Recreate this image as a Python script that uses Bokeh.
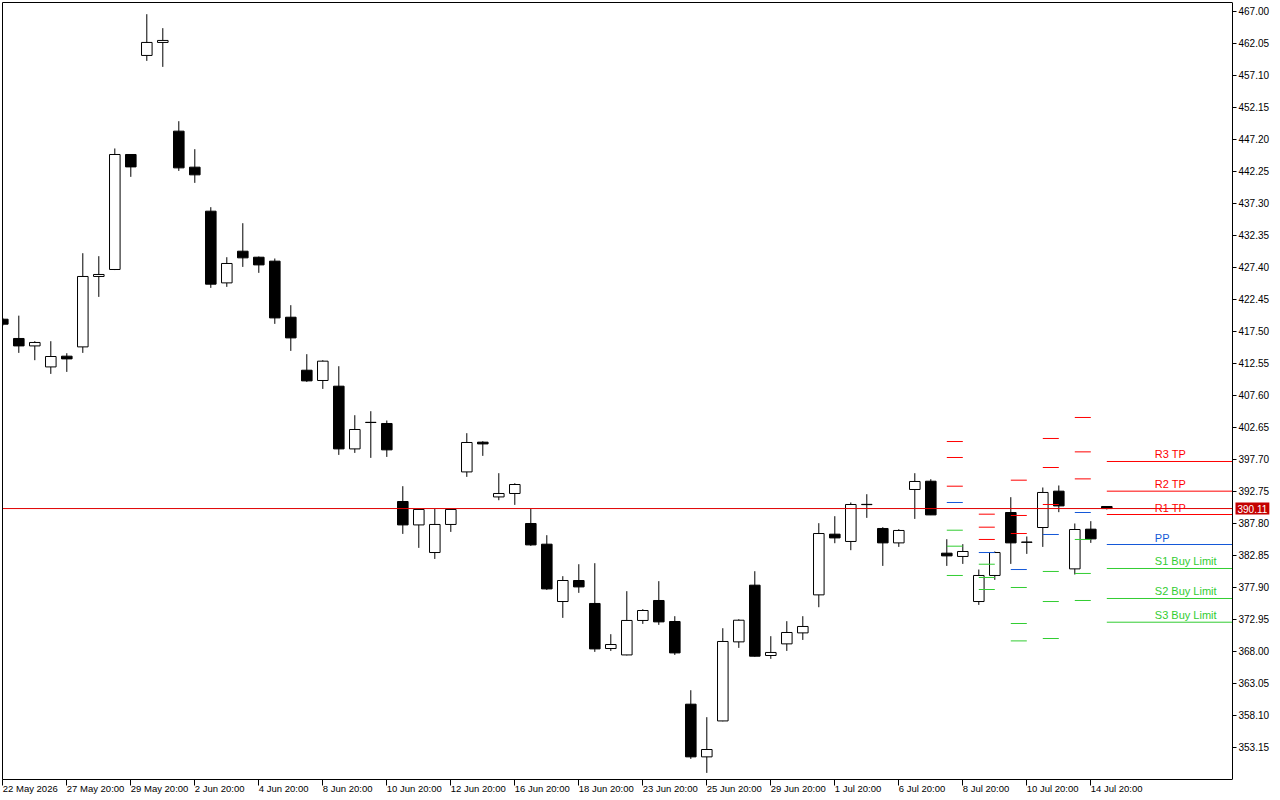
from bokeh.plotting import figure
from bokeh.models import Range1d, FixedTicker, PrintfTickFormatter, LinearAxis, ColumnDataSource
from bokeh.core.properties import value
from bokeh.embed import file_html
from bokeh.resources import INLINE

# ---------------- data ----------------
opens = [419.40, 416.42, 415.27, 412.02, 413.68, 415.12, 426.01, 427.09, 444.88, 460.20,
         462.21, 448.49, 442.92, 436.11, 425.02, 429.92, 428.99, 428.38, 419.71, 411.51,
         409.92, 409.04, 399.34, 403.45, 403.27, 391.20, 387.58, 383.31, 387.65, 395.78,
         400.38, 391.91, 392.44, 387.80, 384.60, 375.73, 378.98, 375.43, 368.46, 367.47,
         372.80, 375.89, 372.64, 359.85, 351.70, 357.26, 369.49, 378.26, 367.38, 369.18,
         370.88, 376.76, 386.15, 385.02, 390.76, 387.03, 384.80, 393.06, 394.34, 383.21,
         382.70, 375.73, 379.76, 389.50, 384.93, 387.18, 392.80, 380.78, 386.92, 390.43]
highs = [419.60, 419.95, 416.00, 416.00, 414.14, 429.61, 429.15, 445.81, 444.90, 466.58,
         464.42, 450.03, 445.70, 436.73, 428.99, 434.25, 429.10, 428.79, 421.57, 413.99,
         413.06, 412.13, 404.55, 405.17, 403.73, 393.57, 390.00, 390.06, 390.00, 401.77,
         400.53, 395.58, 394.03, 390.06, 385.99, 379.65, 381.50, 381.66, 370.68, 377.33,
         374.54, 378.88, 373.46, 362.01, 357.84, 371.60, 372.99, 380.42, 370.37, 372.69,
         373.46, 387.85, 388.93, 391.05, 392.33, 387.23, 386.92, 395.58, 394.65, 385.37,
         384.60, 380.68, 383.47, 391.87, 385.79, 393.37, 393.68, 387.80, 388.16, 390.43]
lows = [418.40, 414.19, 413.06, 410.94, 411.25, 414.19, 422.85, 427.00, 441.42, 459.36,
        458.43, 442.34, 440.49, 424.25, 424.40, 427.49, 426.57, 418.68, 414.50, 409.70,
        408.62, 398.41, 398.72, 397.95, 398.10, 386.19, 384.03, 382.32, 386.50, 395.01,
        398.26, 391.40, 390.68, 384.34, 377.53, 373.20, 377.07, 367.94, 368.09, 367.40,
        372.27, 372.12, 367.47, 351.39, 349.22, 357.20, 368.56, 367.20, 366.86, 368.09,
        369.79, 374.85, 384.75, 383.67, 388.67, 381.24, 384.18, 388.51, 389.10, 381.24,
        381.55, 375.21, 379.08, 381.55, 383.10, 384.18, 389.55, 379.91, 384.80, 389.97]
closes = [418.63, 415.27, 415.80, 413.63, 413.26, 426.01, 426.32, 444.88, 442.96, 462.21,
          462.52, 442.81, 441.73, 424.82, 428.02, 428.89, 427.80, 419.60, 416.51, 409.86,
          412.91, 399.34, 402.34, 403.42, 399.19, 387.58, 389.97, 387.65, 389.97, 400.33,
          400.11, 392.44, 393.83, 384.49, 377.68, 378.98, 377.99, 368.40, 369.08, 372.80,
          374.34, 372.58, 367.78, 351.70, 352.84, 369.55, 372.84, 367.27, 367.85, 370.94,
          371.87, 386.25, 385.57, 390.74, 390.72, 384.80, 386.72, 394.30, 389.13, 382.79,
          383.47, 379.76, 383.31, 384.80, 384.89, 392.60, 390.52, 386.87, 385.42, 390.11]

date_labels = ["22 May 2026", "27 May 20:00", "29 May 20:00", "2 Jun 20:00", "4 Jun 20:00",
               "8 Jun 20:00", "10 Jun 20:00", "12 Jun 20:00", "16 Jun 20:00", "18 Jun 20:00",
               "23 Jun 20:00", "25 Jun 20:00", "29 Jun 20:00", "1 Jul 20:00", "6 Jul 20:00",
               "8 Jul 20:00", "10 Jul 20:00", "14 Jul 20:00"]
bars_per_label = 4

price_ticks = [467.00, 462.05, 457.10, 452.15, 447.20, 442.25, 437.30, 432.35, 427.40, 422.45,
               417.50, 412.55, 407.60, 402.65, 397.70, 392.75, 387.80, 382.85, 377.90, 372.95,
               368.00, 363.05, 358.10, 353.15]

current_price = 390.11

# daily pivot levels (first bar of each day)
pivot_day_start = [59, 61, 63, 65, 67, 69]
r3 = [400.48, 389.24, 394.50, 400.95, 404.20, 397.39]
r2 = [398.01, 387.23, 389.04, 396.46, 398.88, 392.80]
r1 = [393.57, 385.33, 386.25, 390.74, 394.70, 389.19]
pp = [391.05, 383.31, 380.68, 386.10, 389.50, 384.55]
s1 = [386.76, 381.50, 377.90, 380.38, 385.33, 380.84]
s2 = [384.29, 379.45, 372.33, 375.73, 380.07, 376.20]
s3 = [379.76, 377.59, 369.64, 370.01, 375.89, 372.53]
level_names = ["R3 TP", "R2 TP", "R1 TP", "PP", "S1 Buy Limit", "S2 Buy Limit", "S3 Buy Limit"]

# ---------------- layout / styles ----------------
RED = "#FF0000"
BLUE = "#1458D8"
GREEN = "#32CD32"
level_colors = [RED, RED, RED, BLUE, GREEN, GREEN, GREEN]
AXIS_FONT = "Liberation Sans"

PX_PER_BAR = 16
FRAME_W, FRAME_H = 1278, 777
CHART_W = 1230                      # width of the candle area (up to the price scale)
x_start = -0.019
x_end = x_start + FRAME_W / PX_PER_BAR
axis_x = x_start + CHART_W / PX_PER_BAR

p = figure(frame_width=FRAME_W, frame_height=FRAME_H, output_backend="svg", toolbar_location=None,
           x_range=Range1d(x_start, x_end), y_range=Range1d(348.20, 468.39),
           y_axis_location="right",
           min_border_left=2, min_border_top=2, min_border_right=0, min_border_bottom=0)
p.xgrid.visible = False
p.ygrid.visible = False
p.background_fill_color = "white"
p.border_fill_color = "white"
p.outline_line_color = None

# right price scale (drawn at the edge of the candle area)
ya = p.yaxis[0]
ya.fixed_location = axis_x
ya.ticker = FixedTicker(ticks=price_ticks)
ya.formatter = PrintfTickFormatter(format="%.2f")
ya.major_tick_out = 4
ya.major_tick_in = 0
ya.minor_tick_out = 0
ya.minor_tick_in = 0
ya.major_label_standoff = 2
ya.axis_line_color = "black"
ya.major_tick_line_color = "black"
ya.major_label_text_font = AXIS_FONT
ya.major_label_text_font_size = "10px"
ya.major_label_text_color = "black"

# bottom time scale
n = len(opens)
xt = list(range(0, n, bars_per_label))[:len(date_labels)]
xa = p.xaxis[0]
xa.bounds = (x_start, axis_x)
xa.ticker = FixedTicker(ticks=xt)
xa.major_label_overrides = {t: lab for t, lab in zip(xt, date_labels)}
xa.major_tick_out = 6
xa.major_tick_in = 0
xa.minor_tick_out = 0
xa.minor_tick_in = 0
xa.major_label_orientation = -1e-6
xa.major_label_standoff = 3
xa.axis_line_color = "black"
xa.major_label_text_font = AXIS_FONT
xa.major_label_text_font_size = "9.5px"
xa.major_label_text_color = "black"

# left and top frame lines
left_ax = LinearAxis(ticker=FixedTicker(ticks=[]), axis_line_color="black",
                     major_tick_out=0, minor_tick_out=0, major_label_text_font_size="0px")
p.add_layout(left_ax, "left")
top_ax = LinearAxis(ticker=FixedTicker(ticks=[]), axis_line_color="black", bounds=(x_start, axis_x),
                    major_tick_out=0, minor_tick_out=0, major_label_text_font_size="0px")
p.add_layout(top_ax, "above")

# candles
idx = list(range(n))
up = [c >= o for o, c in zip(opens, closes)]
src = ColumnDataSource(dict(
    x=idx, high=highs, low=lows,
    top=[max(o, c) for o, c in zip(opens, closes)],
    bottom=[min(o, c) for o, c in zip(opens, closes)],
    fill=["white" if u else "black" for u in up],
))
p.segment(x0="x", y0="low", x1="x", y1="high", source=src, line_color="black", line_width=1)
p.vbar(x="x", width=0.66, top="top", bottom="bottom", source=src,
       fill_color="fill", line_color="black", line_width=1)

# current price line
p.segment(x0=[x_start], y0=[current_price], x1=[axis_x], y1=[current_price],
          line_color="#E00000", line_width=1)

# pivot levels
levels = [r3, r2, r1, pp, s1, s2, s3]
seg = dict(x0=[], x1=[], y=[], c=[])
for lv, col in zip(levels, level_colors):
    for d, (start, val) in enumerate(zip(pivot_day_start, lv)):
        seg["x0"].append(start)
        seg["x1"].append(start + 1 if d < len(pivot_day_start) - 1 else axis_x)
        seg["y"].append(val)
        seg["c"].append(col)
p.segment(x0="x0", y0="y", x1="x1", y1="y", source=ColumnDataSource(seg), line_color="c", line_width=1)

cur = [lv[-1] for lv in levels]
p.text(x=[pivot_day_start[-1] + 3] * len(cur), y=cur, text=level_names, text_color=level_colors,
       text_font=value("Liberation Sans"), text_font_size="11px",
       text_baseline="bottom", text_align="left", y_offset=-1)

# price tag on the scale
p.text(x=[axis_x], y=[current_price], text=[f"{current_price:.2f}"], x_offset=3,
       text_color="white", text_font=value(AXIS_FONT), text_font_size="10px",
       text_baseline="middle", text_align="left",
       background_fill_color="#C40000", padding=2)

open("out.html", "w").write(file_html(p, INLINE))
